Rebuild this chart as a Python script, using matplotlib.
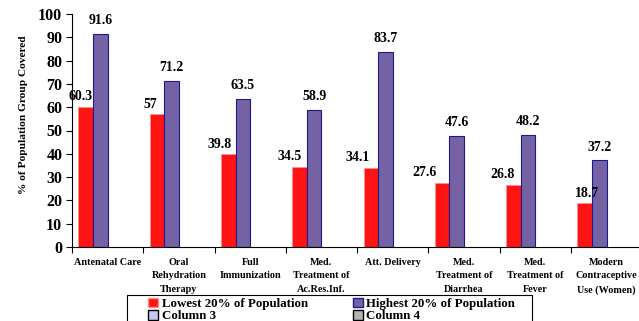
import matplotlib
matplotlib.use("Agg")
import matplotlib.pyplot as plt
import numpy as np
from matplotlib.patches import Patch, Rectangle

categories = ["Antenatal Care", "Oral\nRehydration\nTherapy", "Full\nImmunization",
              "Med.\nTreatment of\nAc.Res.Inf.", "Att. Delivery", "Med.\nTreatment of\nDiarrhea",
              "Med.\nTreatment of\nFever", "Modern\nContraceptive\nUse (Women)"]
lowest = [60.3, 57, 39.8, 34.5, 34.1, 27.6, 26.8, 18.7]
highest = [91.6, 71.2, 63.5, 58.9, 83.7, 47.6, 48.2, 37.2]
series_names = ["Lowest 20% of Population", "Highest 20% of Population", "Column 3", "Column 4"]
yticks = list(range(0, 101, 10))

plt.rcParams['font.family'] = ['Liberation Serif', 'DejaVu Serif']
plt.rcParams['font.weight'] = 'bold'

W, H = 639, 321
fig = plt.figure(figsize=(W/100, H/100), dpi=100)
ax = fig.add_axes([72/W, 1-247/H, 1-72/W+0.005, (247-14)/H])

x = np.arange(len(categories))
w = 0.205
red_c = "#ff1414"
pur_c = "#7462a4"
ax.bar(x - 1.5*w, lowest, w, color=red_c, edgecolor="#ff9090", linewidth=0.6, align='center')
ax.bar(x - 0.5*w, highest, w, color=pur_c, edgecolor="#1a1a8c", linewidth=0.8, align='center')

# value labels (manual-ish placement like the source)
red_dx = [-5, -7, -9, -10, -13, -18, -11, 2]
for i, v in enumerate(lowest):
    ax.annotate(f"{v:g}", (x[i] - 1.5*w, v), xytext=(red_dx[i]*0.72, 7.2),
                textcoords='offset points', ha='center', va='center',
                fontsize=10, fontweight='bold')
for i, v in enumerate(highest):
    ax.annotate(f"{v:g}", (x[i] - 0.5*w, v), xytext=(0, 9.5),
                textcoords='offset points', ha='center', va='center',
                fontsize=10, fontweight='bold')

ax.set_xlim(-0.5, len(categories) - 0.5)
ax.set_ylim(0, 100)
ax.set_yticks(yticks)
ax.set_yticklabels([str(t) for t in yticks], fontsize=11.5, fontweight='bold')
ax.set_xticks(np.arange(len(categories) + 1) - 0.5)
ax.set_xticklabels([])
ax.set_xticks(x, minor=True)
ax.set_xticklabels(categories, minor=True, fontsize=7.3, fontweight='bold', linespacing=1.62)
ax.tick_params(axis='x', which='minor', length=0, pad=8)
ax.tick_params(axis='x', which='major', length=4, direction='out')
ax.tick_params(axis='y', length=4, direction='out', pad=3)
for s in ['top', 'right']:
    ax.spines[s].set_visible(False)
ax.spines['left'].set_linewidth(0.8)
ax.spines['bottom'].set_linewidth(0.8)

ax.set_ylabel("% of Population Group Covered", fontsize=8.2, fontweight='bold')
ax.yaxis.set_label_coords(-0.078, 0.57)

# legend frame (extends below the figure edge as in the source)
fig.add_artist(Rectangle((127/W, -0.05), (532-127)/W, 0.05 + 1-295/H,
                         transform=fig.transFigure, facecolor='white',
                         edgecolor='black', linewidth=0.8, zorder=5))

handles = [Patch(facecolor=red_c, edgecolor="#ff9090", label=series_names[0]),
           Patch(facecolor="#c8c8f4", edgecolor="black", label=series_names[2]),
           Patch(facecolor=pur_c, edgecolor="#1a1a8c", label=series_names[1]),
           Patch(facecolor="#b4b4b4", edgecolor="black", label=series_names[3])]
leg = fig.legend(handles=handles, loc='upper left', bbox_to_anchor=(148/W, 1-298/H),
                 ncol=2, fontsize=9.3, frameon=False,
                 handlelength=0.75, handleheight=0.75, handletextpad=0.3,
                 columnspacing=3.5, labelspacing=0.0, borderpad=0.0, borderaxespad=0)
leg.set_zorder(6)
for t in leg.get_texts():
    t.set_fontweight('bold')

fig.savefig("out.png", dpi=100)
